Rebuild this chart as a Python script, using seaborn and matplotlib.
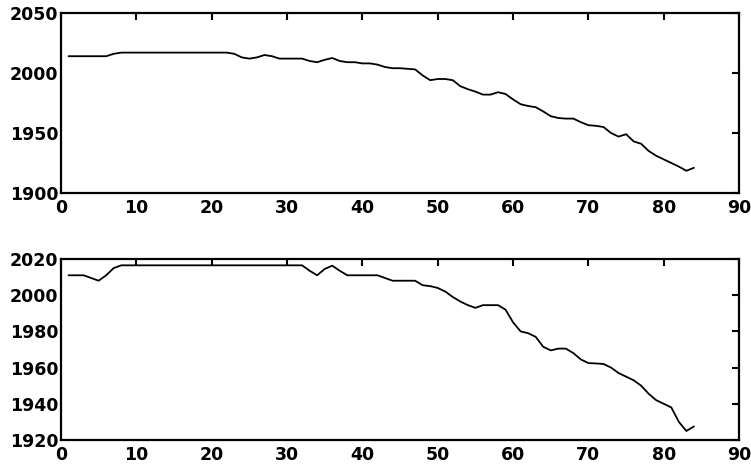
import numpy as np
import pandas as pd
import matplotlib
matplotlib.use("Agg")
import matplotlib.pyplot as plt
import seaborn as sns

# Datos (x = 1..84)
x = list(range(1, 85))

serie_arriba = [
    2014, 2014, 2014, 2014, 2014, 2014, 2016, 2017, 2017, 2017,
    2017, 2017, 2017, 2017, 2017, 2017, 2017, 2017, 2017, 2017,
    2017, 2017, 2016, 2013, 2012, 2013, 2015, 2014, 2012, 2012,
    2012, 2012, 2010, 2009, 2011, 2012.5, 2010, 2009, 2009, 2008,
    2008, 2007, 2005, 2004, 2004, 2003.5, 2003, 1998, 1994, 1995,
    1995, 1994, 1989, 1986.5, 1984.5, 1982, 1982, 1984, 1982.5, 1978,
    1974, 1972.5, 1971.5, 1968, 1964, 1962.5, 1962, 1962, 1959, 1956.5,
    1956, 1955, 1950, 1947, 1949, 1943, 1941, 1935, 1931, 1928,
    1925, 1922, 1918.5, 1921,
]

serie_abajo = [
    2011, 2011, 2011, 2009.5, 2008, 2011, 2015, 2016.5, 2016.5, 2016.5,
    2016.5, 2016.5, 2016.5, 2016.5, 2016.5, 2016.5, 2016.5, 2016.5, 2016.5, 2016.5,
    2016.5, 2016.5, 2016.5, 2016.5, 2016.5, 2016.5, 2016.5, 2016.5, 2016.5, 2016.5,
    2016.5, 2016.5, 2013.5, 2011, 2014.5, 2016.3, 2013.5, 2011, 2011, 2011,
    2011, 2011, 2009.5, 2008, 2008, 2008, 2008, 2005.5, 2005, 2004,
    2002, 1999, 1996.5, 1994.5, 1993, 1994.5, 1994.5, 1994.5, 1992, 1985,
    1980, 1979, 1977, 1971.5, 1969.5, 1970.5, 1970.5, 1968, 1964.5, 1962.5,
    1962.3, 1962, 1960, 1957, 1955, 1953, 1950, 1945.5, 1942, 1940,
    1938, 1930, 1925, 1927.5,
]

xticks = [0, 10, 20, 30, 40, 50, 60, 70, 80, 90]
yticks_arriba = [1900, 1950, 2000, 2050]
yticks_abajo = [1920, 1940, 1960, 1980, 2000, 2020]

df = pd.DataFrame({"x": x, "arriba": serie_arriba, "abajo": serie_abajo})

sns.set_style("white")
plt.rcParams["font.family"] = ["DejaVu Sans"]
plt.rcParams["font.weight"] = "bold"

fig = plt.figure(figsize=(7.51, 4.68), dpi=100)
ax1 = fig.add_axes([0.0812, 0.5876, 0.903, 0.3846])
ax2 = fig.add_axes([0.0812, 0.0598, 0.903, 0.3868])

for ax, col, yt in [(ax1, "arriba", yticks_arriba), (ax2, "abajo", yticks_abajo)]:
    sns.lineplot(data=df, x="x", y=col, ax=ax, color="black", linewidth=1.3)
    ax.set_xlim(0, 90)
    ax.set_ylim(yt[0], yt[-1])
    ax.set_xticks(xticks)
    ax.set_yticks(yt)
    ax.set_xlabel("")
    ax.set_ylabel("")
    ax.tick_params(direction="in", top=True, right=True, length=5, width=1.5,
                   labelsize=12.5, colors="black")
    ax.tick_params(axis="x", pad=4)
    ax.tick_params(axis="y", pad=2)
    for lab in ax.get_xticklabels() + ax.get_yticklabels():
        lab.set_fontweight("bold")
    for s in ax.spines.values():
        s.set_linewidth(1.6)
        s.set_color("black")

plt.savefig("out.png", dpi=100)
plt.close()
